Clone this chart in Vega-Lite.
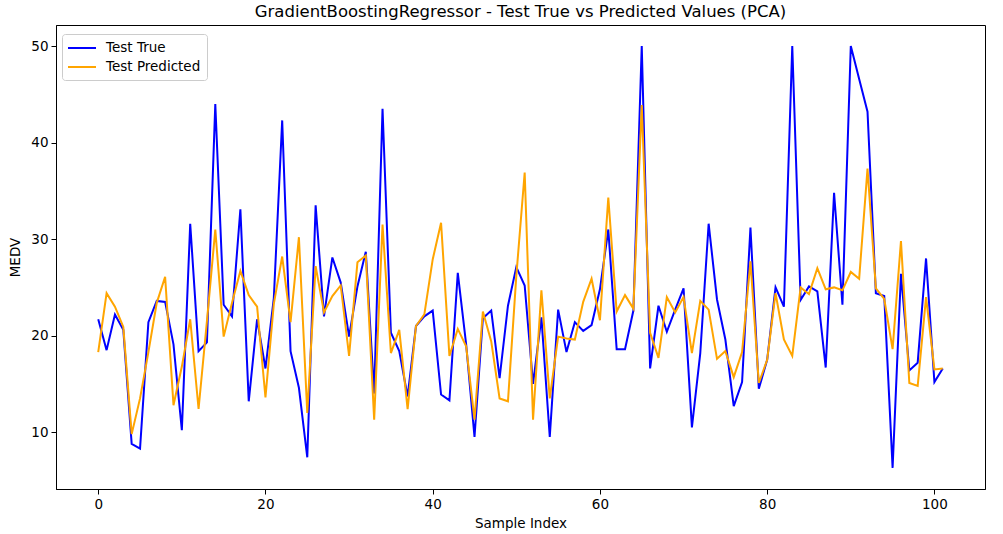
{
  "$schema": "https://vega.github.io/schema/vega-lite/v6.json",
  "autosize": {"type": "none"},
  "width": 929,
  "height": 464,
  "padding": {"left": 56, "top": 25, "right": 18, "bottom": 45},
  "background": "white",
  "config": {
    "font": "DejaVu Sans",
    "view": {"stroke": "black", "strokeWidth": 1},
    "axis": {
      "grid": false,
      "domainColor": "black",
      "tickColor": "black",
      "tickSize": 5,
      "labelColor": "black",
      "labelFontSize": 13.5,
      "labelFont": "DejaVu Sans",
      "labelPadding": 3,
      "titleFont": "DejaVu Sans",
      "titleFontSize": 13.5,
      "titleFontWeight": "normal",
      "titleColor": "black"
    }
  },
  "title": {
    "text": "GradientBoostingRegressor - Test True vs Predicted Values (PCA)",
    "font": "DejaVu Sans",
    "fontSize": 16.5,
    "fontWeight": "normal",
    "color": "black",
    "anchor": "middle",
    "offset": 5
  },
  "data": {
    "values": [
      {"i":0,"Test True":21.7,"Test Predicted":18.3},
      {"i":1,"Test True":18.5,"Test Predicted":24.4},
      {"i":2,"Test True":22.2,"Test Predicted":23.0},
      {"i":3,"Test True":20.6,"Test Predicted":20.9},
      {"i":4,"Test True":8.8,"Test Predicted":9.8},
      {"i":5,"Test True":8.3,"Test Predicted":13.5},
      {"i":6,"Test True":21.4,"Test Predicted":18.3},
      {"i":7,"Test True":23.6,"Test Predicted":23.4},
      {"i":8,"Test True":23.5,"Test Predicted":26.1},
      {"i":9,"Test True":19.1,"Test Predicted":12.8},
      {"i":10,"Test True":10.2,"Test Predicted":16.8},
      {"i":11,"Test True":31.6,"Test Predicted":21.7},
      {"i":12,"Test True":18.4,"Test Predicted":12.4},
      {"i":13,"Test True":19.3,"Test Predicted":21.5},
      {"i":14,"Test True":44.0,"Test Predicted":31.0},
      {"i":15,"Test True":23.2,"Test Predicted":19.9},
      {"i":16,"Test True":22.0,"Test Predicted":23.4},
      {"i":17,"Test True":33.1,"Test Predicted":26.7},
      {"i":18,"Test True":13.2,"Test Predicted":24.2},
      {"i":19,"Test True":21.7,"Test Predicted":23.0},
      {"i":20,"Test True":16.6,"Test Predicted":13.6},
      {"i":21,"Test True":23.9,"Test Predicted":23.3},
      {"i":22,"Test True":42.3,"Test Predicted":28.2},
      {"i":23,"Test True":18.4,"Test Predicted":21.4},
      {"i":24,"Test True":14.6,"Test Predicted":30.2},
      {"i":25,"Test True":7.4,"Test Predicted":12.0},
      {"i":26,"Test True":33.5,"Test Predicted":27.2},
      {"i":27,"Test True":22.0,"Test Predicted":22.4},
      {"i":28,"Test True":28.1,"Test Predicted":24.1},
      {"i":29,"Test True":25.5,"Test Predicted":25.2},
      {"i":30,"Test True":19.9,"Test Predicted":17.9},
      {"i":31,"Test True":25.1,"Test Predicted":27.6},
      {"i":32,"Test True":28.7,"Test Predicted":28.3},
      {"i":33,"Test True":14.0,"Test Predicted":11.3},
      {"i":34,"Test True":43.5,"Test Predicted":31.5},
      {"i":35,"Test True":20.3,"Test Predicted":18.2},
      {"i":36,"Test True":18.4,"Test Predicted":20.6},
      {"i":37,"Test True":13.7,"Test Predicted":12.4},
      {"i":38,"Test True":21.0,"Test Predicted":21.0},
      {"i":39,"Test True":22.0,"Test Predicted":22.2},
      {"i":40,"Test True":22.6,"Test Predicted":27.9},
      {"i":41,"Test True":13.9,"Test Predicted":31.7},
      {"i":42,"Test True":13.3,"Test Predicted":17.9},
      {"i":43,"Test True":26.5,"Test Predicted":20.7},
      {"i":44,"Test True":19.1,"Test Predicted":18.9},
      {"i":45,"Test True":9.5,"Test Predicted":11.3},
      {"i":46,"Test True":21.8,"Test Predicted":22.5},
      {"i":47,"Test True":22.6,"Test Predicted":19.4},
      {"i":48,"Test True":15.6,"Test Predicted":13.5},
      {"i":49,"Test True":23.1,"Test Predicted":13.2},
      {"i":50,"Test True":27.1,"Test Predicted":26.2},
      {"i":51,"Test True":25.2,"Test Predicted":36.9},
      {"i":52,"Test True":15.0,"Test Predicted":11.3},
      {"i":53,"Test True":21.9,"Test Predicted":24.7},
      {"i":54,"Test True":9.5,"Test Predicted":13.5},
      {"i":55,"Test True":22.7,"Test Predicted":19.9},
      {"i":56,"Test True":18.3,"Test Predicted":19.7},
      {"i":57,"Test True":21.4,"Test Predicted":19.6},
      {"i":58,"Test True":20.5,"Test Predicted":23.5},
      {"i":59,"Test True":21.1,"Test Predicted":25.9},
      {"i":60,"Test True":24.8,"Test Predicted":21.6},
      {"i":61,"Test True":31.0,"Test Predicted":34.3},
      {"i":62,"Test True":18.6,"Test Predicted":22.5},
      {"i":63,"Test True":18.6,"Test Predicted":24.2},
      {"i":64,"Test True":22.6,"Test Predicted":22.8},
      {"i":65,"Test True":50.0,"Test Predicted":43.9},
      {"i":66,"Test True":16.6,"Test Predicted":20.3},
      {"i":67,"Test True":23.1,"Test Predicted":17.7},
      {"i":68,"Test True":20.4,"Test Predicted":24.0},
      {"i":69,"Test True":22.7,"Test Predicted":22.4},
      {"i":70,"Test True":24.9,"Test Predicted":24.0},
      {"i":71,"Test True":10.5,"Test Predicted":18.2},
      {"i":72,"Test True":18.2,"Test Predicted":23.6},
      {"i":73,"Test True":31.6,"Test Predicted":22.7},
      {"i":74,"Test True":23.75,"Test Predicted":17.6},
      {"i":75,"Test True":19.6,"Test Predicted":18.4},
      {"i":76,"Test True":12.7,"Test Predicted":15.7},
      {"i":77,"Test True":15.2,"Test Predicted":18.3},
      {"i":78,"Test True":31.2,"Test Predicted":27.7},
      {"i":79,"Test True":14.5,"Test Predicted":15.1},
      {"i":80,"Test True":17.5,"Test Predicted":17.5},
      {"i":81,"Test True":25.0,"Test Predicted":24.4},
      {"i":82,"Test True":23.0,"Test Predicted":19.6},
      {"i":83,"Test True":50.0,"Test Predicted":17.9},
      {"i":84,"Test True":23.7,"Test Predicted":25.0},
      {"i":85,"Test True":25.1,"Test Predicted":24.3},
      {"i":86,"Test True":24.6,"Test Predicted":27.0},
      {"i":87,"Test True":16.7,"Test Predicted":24.8},
      {"i":88,"Test True":34.8,"Test Predicted":25.0},
      {"i":89,"Test True":23.2,"Test Predicted":24.7},
      {"i":90,"Test True":50.0,"Test Predicted":26.6},
      {"i":91,"Test True":46.6,"Test Predicted":25.9},
      {"i":92,"Test True":43.2,"Test Predicted":37.3},
      {"i":93,"Test True":24.4,"Test Predicted":24.9},
      {"i":94,"Test True":24.1,"Test Predicted":23.8},
      {"i":95,"Test True":6.3,"Test Predicted":18.6},
      {"i":96,"Test True":26.4,"Test Predicted":29.8},
      {"i":97,"Test True":16.4,"Test Predicted":15.1},
      {"i":98,"Test True":17.2,"Test Predicted":14.8},
      {"i":99,"Test True":28.0,"Test Predicted":24.0},
      {"i":100,"Test True":15.2,"Test Predicted":16.5},
      {"i":101,"Test True":16.6,"Test Predicted":16.6}
    ]
  },
  "transform": [
    {"fold": ["Test True", "Test Predicted"], "as": ["series", "value"]}
  ],
  "mark": {"type": "line", "strokeWidth": 2, "clip": true},
  "encoding": {
    "x": {
      "field": "i",
      "type": "quantitative",
      "scale": {"domain": [-5.05, 106.05], "nice": false, "zero": false},
      "axis": {"values": [0, 20, 40, 60, 80, 100], "title": "Sample Index", "titlePadding": 6}
    },
    "y": {
      "field": "value",
      "type": "quantitative",
      "scale": {"domain": [4.115, 52.185], "nice": false, "zero": false},
      "axis": {"values": [10, 20, 30, 40, 50], "title": "MEDV", "titlePadding": 8}
    },
    "color": {
      "field": "series",
      "type": "nominal",
      "scale": {"domain": ["Test True", "Test Predicted"], "range": ["#0000ff", "#ffa500"]},
      "legend": {
        "title": null,
        "orient": "none",
        "legendX": 6,
        "legendY": 9,
        "symbolType": "M-2,0L2,0",
        "symbolStrokeWidth": 2,
        "symbolSize": 196,
        "symbolOffset": 6,
        "labelFontSize": 13.5,
        "labelFont": "DejaVu Sans",
        "labelColor": "black",
        "fillColor": "white",
        "strokeColor": "#cccccc",
        "cornerRadius": 3,
        "padding": 6,
        "rowPadding": 4,
        "labelOffset": 16
      }
    }
  }
}
